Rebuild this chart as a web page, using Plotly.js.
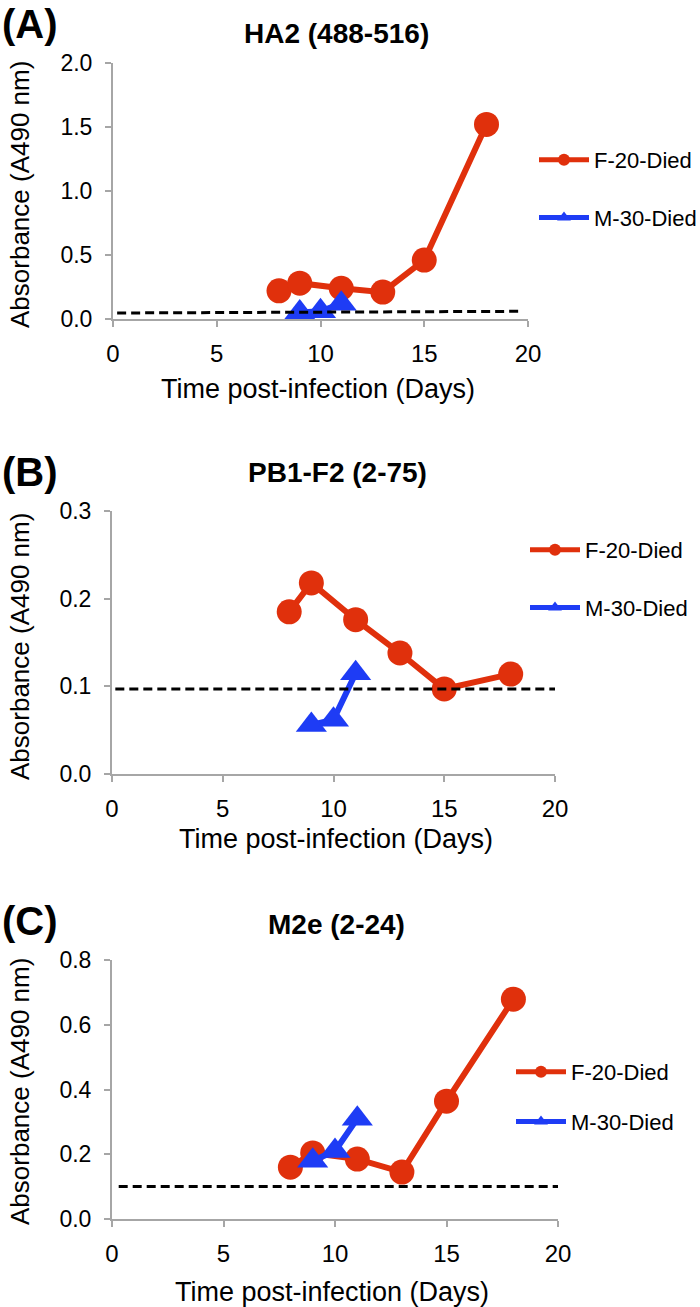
<!DOCTYPE html>
<html>
<head>
<meta charset="utf-8">
<script src="https://cdn.plot.ly/plotly-3.0.1.min.js"></script>
<style>
  html, body { margin: 0; padding: 0; background: #fff; }
  #chart { width: 700px; height: 1307px; }
</style>
</head>
<body>
<div id="chart"></div>
<script>
var FONT = "Liberation Sans, Arial, sans-serif";
var RED = "#e0300c";
var BLUE = "#1e3cf5";
var AXIS_GRAY = "#a6a6a6";

// days sampled
var fDays = [8, 9, 11, 13, 15, 18];
var mDays = [9, 10, 11];

// (A) HA2 (488-516)
var ha2F = [0.22, 0.28, 0.24, 0.21, 0.46, 1.52];
var ha2M = [0.05, 0.06, 0.12];
var ha2CutX = [0.2, 19.7];
var ha2CutY = [0.047, 0.06];

// (B) PB1-F2 (2-75)
var pb1F = [0.185, 0.218, 0.176, 0.138, 0.097, 0.114];
var pb1M = [0.056, 0.062, 0.115];
var pb1CutX = [0.15, 20];
var pb1CutY = [0.097, 0.097];

// (C) M2e (2-24)
var m2eF = [0.16, 0.204, 0.185, 0.145, 0.364, 0.679];
var m2eM = [0.18, 0.21, 0.31];
var m2eCutX = [0.3, 20];
var m2eCutY = [0.1, 0.1];

var seriesNames = ["F-20-Died", "M-30-Died"];
var panelLetters = ["(A)", "(B)", "(C)"];
var panelTitles = ["HA2 (488-516)", "PB1-F2 (2-75)", "M2e (2-24)"];
var X_TITLE = "Time post-infection (Days)";
var Y_TITLE = "Absorbance (A490 nm)";

var W = 700, H = 1307;
var px = function(x) { return x / W; };
var py = function(y) { return 1 - y / H; };

var femaleTrace = function(y, n) {
  return {
    type: "scatter", mode: "lines+markers", name: seriesNames[0],
    x: fDays, y: y, xaxis: "x" + n, yaxis: "y" + n,
    legend: n === "" ? "legend" : "legend" + n, legendgroup: "f" + n,
    line: { color: RED, width: 6 },
    marker: { symbol: "circle", size: 25, color: RED },
    cliponaxis: false
  };
};

var maleTrace = function(y, n) {
  return {
    type: "scatter", mode: "lines+markers", name: seriesNames[1],
    x: mDays, y: y, xaxis: "x" + n, yaxis: "y" + n,
    legend: n === "" ? "legend" : "legend" + n, legendgroup: "m" + n,
    line: { color: BLUE, width: 6 },
    marker: { symbol: "triangle-up", size: 27, color: BLUE },
    cliponaxis: false
  };
};

var cutoffTrace = function(x, y, n) {
  return {
    type: "scatter", mode: "lines", x: x, y: y,
    xaxis: "x" + n, yaxis: "y" + n, showlegend: false, hoverinfo: "skip",
    line: { color: "#000", width: 3, dash: "9px,5px" },
    cliponaxis: false
  };
};

var data = [
  femaleTrace(ha2F, ""), maleTrace(ha2M, ""), cutoffTrace(ha2CutX, ha2CutY, ""),
  femaleTrace(pb1F, "2"), maleTrace(pb1M, "2"), cutoffTrace(pb1CutX, pb1CutY, "2"),
  femaleTrace(m2eF, "3"), maleTrace(m2eM, "3"), cutoffTrace(m2eCutX, m2eCutY, "3")
];

var xAxis = function(left, right, anchor) {
  return {
    domain: [px(left), px(right)], anchor: anchor, range: [0, 20],
    tick0: 0, dtick: 5, ticks: "outside", ticklen: 6, tickwidth: 2, tickcolor: AXIS_GRAY,
    ticklabelstandoff: 6,
    showline: true, linecolor: AXIS_GRAY, linewidth: 2,
    showgrid: false, zeroline: false,
    tickfont: { family: FONT, size: 24, color: "#000" }
  };
};

var yAxis = function(top, bottom, max, step, anchor) {
  return {
    domain: [py(bottom), py(top)], anchor: anchor, range: [0, max],
    tick0: 0, dtick: step, tickformat: ".1f",
    ticks: "outside", ticklen: 6, tickwidth: 2, tickcolor: AXIS_GRAY,
    ticklabelstandoff: 8,
    showline: true, linecolor: AXIS_GRAY, linewidth: 2,
    showgrid: false, zeroline: false,
    tickfont: { family: FONT, size: 23, color: "#000" }
  };
};

var legendBox = function(left, top, gap) {
  return {
    x: px(left), y: py(top), xanchor: "left", yanchor: "top",
    bgcolor: "rgba(0,0,0,0)", itemwidth: 50, itemsizing: "constant",
    traceorder: "grouped", tracegroupgap: gap,
    font: { family: FONT, size: 22, color: "#000" }
  };
};

var text = function(s, x, y, size, bold, opts) {
  var a = {
    text: bold ? "<b>" + s + "</b>" : s,
    xref: "paper", yref: "paper", x: px(x), y: py(y),
    xanchor: "center", yanchor: "middle", showarrow: false,
    font: { family: FONT, size: size, color: "#000" }
  };
  for (var k in opts) { a[k] = opts[k]; }
  return a;
};

var annotations = [
  text(panelLetters[0], 0, 24, 40, true, { xanchor: "left" }),
  text(panelLetters[1], 0, 472, 40, true, { xanchor: "left" }),
  text(panelLetters[2], 0, 921, 40, true, { xanchor: "left" }),
  text(panelTitles[0], 336, 34, 28, true),
  text(panelTitles[1], 337, 473, 28, true),
  text(panelTitles[2], 336, 925, 28, true),
  text(Y_TITLE, 20, 195, 26, false, { textangle: -90 }),
  text(Y_TITLE, 20, 647, 26, false, { textangle: -90 }),
  text(Y_TITLE, 20, 1092, 26, false, { textangle: -90 }),
  text(X_TITLE, 318, 389, 27, false),
  text(X_TITLE, 336, 839, 27, false),
  text(X_TITLE, 332, 1292, 27, false)
];

var layout = {
  width: W, height: H,
  margin: { l: 0, r: 0, t: 0, b: 0, autoexpand: false },
  paper_bgcolor: "#fff", plot_bgcolor: "#fff",
  showlegend: true,
  xaxis: xAxis(113, 528, "y"),
  yaxis: yAxis(63, 319, 2, 0.5, "x"),
  xaxis2: xAxis(112, 555, "y2"),
  yaxis2: yAxis(511, 774, 0.3, 0.1, "x2"),
  xaxis3: xAxis(112, 558, "y3"),
  yaxis3: yAxis(960, 1219, 0.8, 0.2, "x3"),
  legend: legendBox(534, 139, 26),
  legend2: legendBox(525, 529, 26),
  legend3: legendBox(511, 1051, 18),
  annotations: annotations
};

Plotly.newPlot(document.getElementById("chart"), data, layout, { displaylogo: false, displayModeBar: false, staticPlot: true });
</script>
</body>
</html>
